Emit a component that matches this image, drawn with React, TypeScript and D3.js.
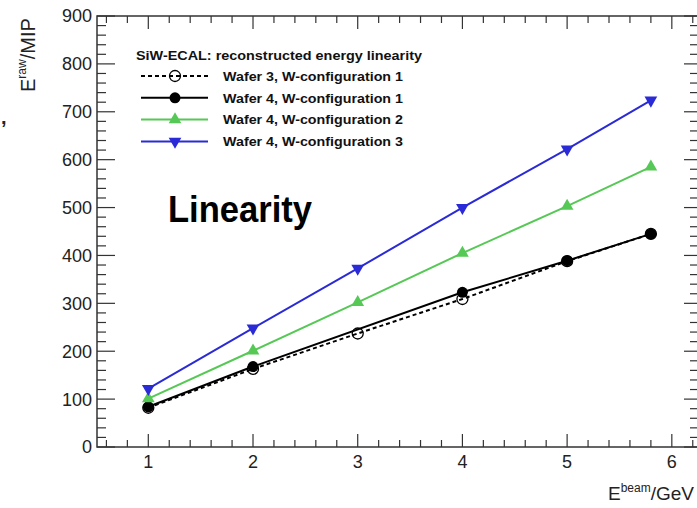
import React from "react";
import * as d3 from "d3";

const W = 697;
const H = 508;

// data
const xW3C1 = [1, 2, 3, 4, 5, 5.8];
const yW3C1 = [82, 163, 237, 309, 388, 445];
const xW4C1 = [1, 2, 4, 5, 5.8];
const yW4C1 = [84, 168, 323, 389, 445];
const xW4C2 = [1, 2, 3, 4, 5, 5.8];
const yW4C2 = [101, 201, 302, 405, 503, 585];
const xW4C3 = [1, 2, 3, 4, 5, 5.8];
const yW4C3 = [122, 248, 373, 500, 622, 724];

const xTicks = [1, 2, 3, 4, 5, 6];
const yTicks = [0, 100, 200, 300, 400, 500, 600, 700, 800, 900];
const legendTitle = "SiW-ECAL: reconstructed energy linearity";
const legendLabels = [
  "Wafer 3, W-configuration 1",
  "Wafer 4, W-configuration 1",
  "Wafer 4, W-configuration 2",
  "Wafer 4, W-configuration 3",
];

const BLUE = "#2a2ad6";
const GREEN = "#55c855";
const AXC = "#333";
const FONT = "'Liberation Sans', Arial, Helvetica, sans-serif";

const FR = { left: 97, right: 698, top: 16, bottom: 447 };

const x = d3.scaleLinear().domain([0.51, 6.25]).range([FR.left, FR.right]);
const y = d3.scaleLinear().domain([0, 900]).range([FR.bottom, FR.top]);

type Series = {
  xs: number[];
  ys: number[];
  color: string;
  dash?: string;
  marker: "open" | "dot" | "up" | "down";
};

const series: Series[] = [
  { xs: xW3C1, ys: yW3C1, color: "#000", dash: "4,3", marker: "open" },
  { xs: xW4C1, ys: yW4C1, color: "#000", marker: "dot" },
  { xs: xW4C2, ys: yW4C2, color: GREEN, marker: "up" },
  { xs: xW4C3, ys: yW4C3, color: BLUE, marker: "down" },
];

const triUp = d3.symbol().type(d3.symbolTriangle).size(70);

function Marker({ kind, cx, cy, color }: { kind: string; cx: number; cy: number; color: string }) {
  if (kind === "open")
    return <circle cx={cx} cy={cy} r={5.5} fill="none" stroke={color} strokeWidth={1.3} />;
  if (kind === "dot") return <circle cx={cx} cy={cy} r={5.5} fill={color} />;
  const rot = kind === "down" ? 180 : 0;
  return (
    <path
      d={triUp() as string}
      transform={`translate(${cx},${cy}) rotate(${rot})`}
      fill={color}
    />
  );
}

export default function App() {
  const line = d3.line<[number, number]>().x((d) => x(d[0])).y((d) => y(d[1]));

  const xMinor = d3.range(0.6, 6.25, 0.2).map((v) => Math.round(v * 10) / 10);
  const yMinor = d3.range(0, 901, 20);

  return (
    <svg
      width={W}
      height={H}
      style={{ position: "absolute", left: 0, top: 0, background: "#fff" }}
      fontFamily={FONT}
    >
      <rect x={0} y={0} width={W} height={H} fill="#fff" />
      {/* frame */}
      <rect
        x={FR.left}
        y={FR.top}
        width={FR.right - FR.left}
        height={FR.bottom - FR.top}
        fill="none"
        stroke={AXC}
        strokeWidth={1.5}
      />
      {/* x ticks bottom & top */}
      {xMinor.map((v) => {
        const major = Math.abs(v - Math.round(v)) < 1e-6;
        const px = x(v);
        return (
          <g key={"xt" + v}>
            <line x1={px} x2={px} y1={FR.bottom} y2={FR.bottom - (major ? 13 : 7)} stroke={AXC} strokeWidth={1.2} />
            <line x1={px} x2={px} y1={FR.top} y2={FR.top + (major ? 13 : 7)} stroke={AXC} strokeWidth={1.2} />
          </g>
        );
      })}
      {/* y ticks left & right */}
      {yMinor.map((v) => {
        const major = v % 100 === 0;
        const py = y(v);
        return (
          <g key={"yt" + v}>
            <line x1={FR.left} x2={FR.left + (major ? 18 : 9)} y1={py} y2={py} stroke={AXC} strokeWidth={1.2} />
            <line x1={FR.right} x2={FR.right - (major ? 14 : 8)} y1={py} y2={py} stroke={AXC} strokeWidth={1.2} />
          </g>
        );
      })}
      {/* tick labels */}
      {xTicks.map((v) => (
        <text key={"xl" + v} x={x(v)} y={468} textAnchor="middle" fontSize={18} fill="#222">
          {v}
        </text>
      ))}
      {yTicks.map((v) => (
        <text key={"yl" + v} x={92} y={y(v)} dy="0.36em" textAnchor="end" fontSize={18} fill="#222">
          {v}
        </text>
      ))}
      {/* axis titles */}
      <text transform="translate(35,92) rotate(-90)" fontSize={20} fill="#222">
        E<tspan fontSize={12} dy={-9}>raw</tspan>
        <tspan dy={9}>/MIP</tspan>
      </text>
      <text x={608} y={500} fontSize={19} fill="#222">
        E<tspan fontSize={12} dy={-8}>beam</tspan>
        <tspan dy={8}>/GeV</tspan>
      </text>
      {/* stray comma from slide */}
      <text x={1} y={124} fontSize={20} fontWeight="bold" fill="#222">,</text>

      {/* series */}
      {series.map((s, i) => {
        const pts = s.xs.map((v, j) => [v, s.ys[j]] as [number, number]);
        return (
          <g key={"s" + i}>
            <path d={line(pts) as string} fill="none" stroke={s.color} strokeWidth={2} strokeDasharray={s.dash} />
            {pts.map((p, j) => (
              <Marker key={j} kind={s.marker} cx={x(p[0])} cy={y(p[1])} color={s.color} />
            ))}
          </g>
        );
      })}

      {/* legend */}
      <text x={136} y={60} fontSize={13.5} fontWeight="bold" fill="#111" textLength={286} lengthAdjust="spacingAndGlyphs">
        {legendTitle}
      </text>
      {legendLabels.map((lab, i) => {
        const s = series[i];
        const cy = 76 + i * 21.8;
        return (
          <g key={"lg" + i}>
            <line x1={141} x2={208} y1={cy} y2={cy} stroke={s.color} strokeWidth={2} strokeDasharray={s.dash} />
            <Marker kind={s.marker} cx={175} cy={cy} color={s.color} />
            <text x={223} y={cy} dy="0.36em" fontSize={13.5} fontWeight="bold" fill="#111" textLength={180} lengthAdjust="spacingAndGlyphs">
              {lab}
            </text>
          </g>
        );
      })}

      <text x={168} y={222} fontSize={36} fontWeight="bold" fill="#000" textLength={144} lengthAdjust="spacingAndGlyphs">
        Linearity
      </text>
    </svg>
  );
}
